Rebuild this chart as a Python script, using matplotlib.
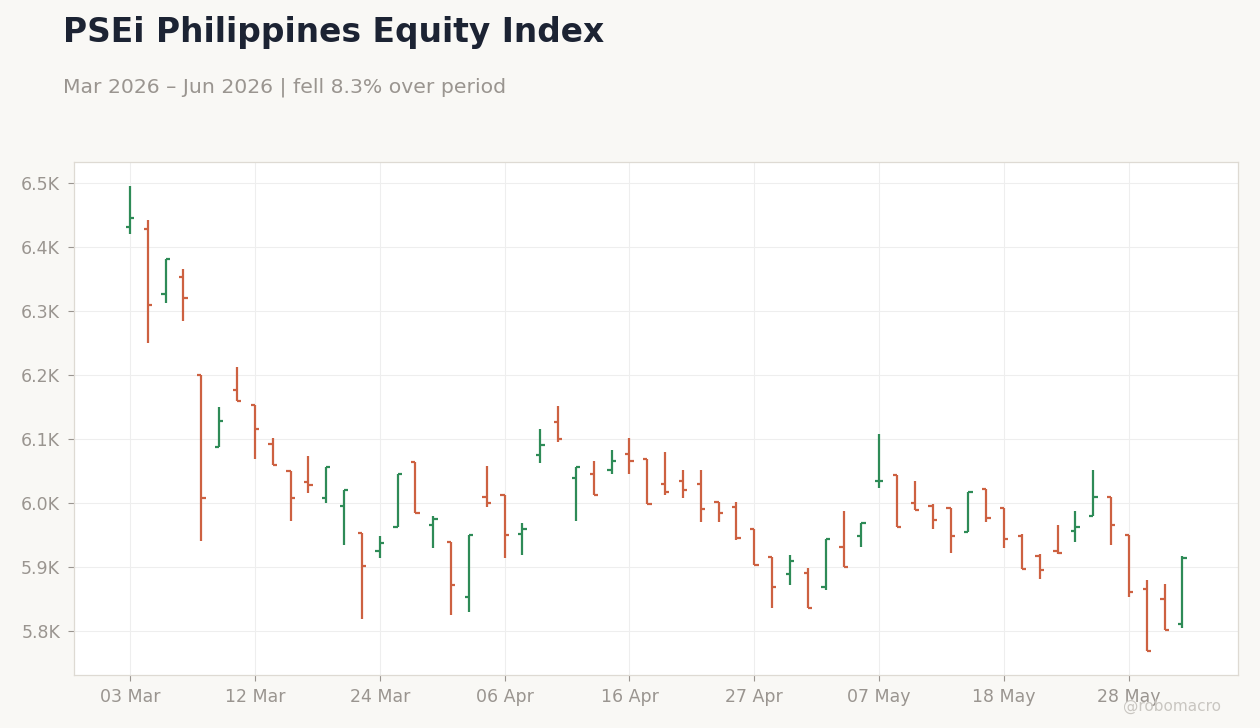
import matplotlib
matplotlib.use("Agg")
import matplotlib.pyplot as plt
from matplotlib.ticker import FuncFormatter, MultipleLocator
import numpy as np
import pandas as pd

# trading days, Mar 3 - Jun 2 2026 (PSE holidays removed)
holidays = ["2026-03-20", "2026-04-02", "2026-04-03", "2026-04-09", "2026-05-01", "2026-05-27"]
dates = pd.bdate_range("2026-03-03", "2026-06-02")
dates = dates[~dates.isin(pd.to_datetime(holidays))]

opens = [6431, 6429, 6326, 6353, 6200, 6087, 6177, 6153, 6092, 6050,
         6032, 6007, 5995, 5953, 5925, 5962, 6064, 5965, 5939, 5853,
         6010, 6012, 5951, 6075, 6126, 6039, 6045, 6051, 6076, 6068,
         6029, 6034, 6029, 6002, 5993, 5960, 5916, 5889, 5890, 5868,
         5931, 5948, 6034, 6043, 6000, 5995, 5992, 5955, 6021, 5992,
         5948, 5917, 5925, 5956, 5979, 6010, 5950, 5865, 5850, 5810]
highs = [6496, 6443, 6381, 6365, 6200, 6150, 6213, 6153, 6101, 6050,
         6074, 6056, 6020, 5953, 5949, 6045, 6064, 5980, 5939, 5950,
         6058, 6012, 5968, 6115, 6152, 6056, 6066, 6082, 6101, 6068,
         6080, 6052, 6052, 6002, 6001, 5960, 5916, 5919, 5899, 5944,
         5987, 5968, 6107, 6043, 6035, 5998, 5992, 6017, 6021, 5992,
         5952, 5920, 5966, 5987, 6051, 6010, 5950, 5879, 5874, 5917]
lows = [6421, 6250, 6313, 6285, 5940, 6087, 6159, 6068, 6060, 5971,
        6015, 6000, 5935, 5818, 5914, 5962, 5985, 5929, 5825, 5830,
        5993, 5914, 5918, 6062, 6096, 5971, 6013, 6045, 6046, 5999,
        6013, 6007, 5970, 5970, 5942, 5903, 5835, 5871, 5835, 5864,
        5900, 5931, 6023, 5962, 5989, 5960, 5921, 5955, 5970, 5929,
        5897, 5881, 5920, 5939, 5979, 5934, 5853, 5769, 5801, 5804]
closes = [6446, 6309, 6381, 6321, 6007, 6128, 6159, 6115, 6060, 6007,
          6028, 6056, 6020, 5901, 5937, 6045, 5985, 5975, 5871, 5950,
          6000, 5950, 5959, 6090, 6100, 6056, 6013, 6065, 6065, 5999,
          6017, 6020, 5990, 5985, 5945, 5903, 5868, 5909, 5835, 5944,
          5900, 5968, 6035, 5962, 5989, 5973, 5948, 6017, 5977, 5943,
          5897, 5895, 5921, 5962, 6010, 5965, 5860, 5769, 5801, 5914]

green = "#2e8b57"
red = "#cd6141"
bg = "#f9f8f5"

fig = plt.figure(figsize=(12.6, 7.28), dpi=100, facecolor=bg)
ax = fig.add_axes([0.0587, 0.0728, 0.9238, 0.7047])
ax.set_facecolor("white")

x = np.arange(len(dates))
o = np.array(opens); h = np.array(highs); l = np.array(lows); c = np.array(closes)
cols = [green if cc >= oo else red for oo, cc in zip(o, c)]
tk = 0.24
ax.vlines(x, l, h, colors=cols, lw=1.6, zorder=3)
ax.hlines(o, x - tk, x, colors=cols, lw=1.6, zorder=3)
ax.hlines(c, x, x + tk, colors=cols, lw=1.6, zorder=3)

ax.set_xlim(-3.14, 62.11)
ax.set_ylim(5731, 6533)

tick_idx = list(range(0, len(dates), 7))
ax.set_xticks(tick_idx)
ax.set_xticklabels([dates[i].strftime("%d %b") for i in tick_idx])
ax.yaxis.set_major_locator(MultipleLocator(100))
ax.yaxis.set_major_formatter(FuncFormatter(lambda v, p: f"{v/1000:.1f}K"))

ax.grid(True, color="#eeeeee", lw=0.8, zorder=0)
ax.set_axisbelow(True)
for s in ax.spines.values():
    s.set_color("#dedad3")
    s.set_linewidth(0.9)
ax.tick_params(colors="#9a9590", labelsize=12.5, length=4, width=0.8, pad=6)
ax.tick_params(axis="x", pad=5.5)

fig.text(0.05, 0.942, "PSEi Philippines Equity Index", fontsize=23.7, fontweight="bold",
         color="#1c2333", va="baseline")
fig.text(0.05, 0.8736, "Mar 2026 \u2013 Jun 2026 | fell 8.3% over period", fontsize=14.65,
         color="#9a9590", va="baseline")
fig.text(0.969, 0.024, "@robomacro", fontsize=11, color="#c9c6c1", ha="right")

fig.savefig("out.png", dpi=100, facecolor=bg)
